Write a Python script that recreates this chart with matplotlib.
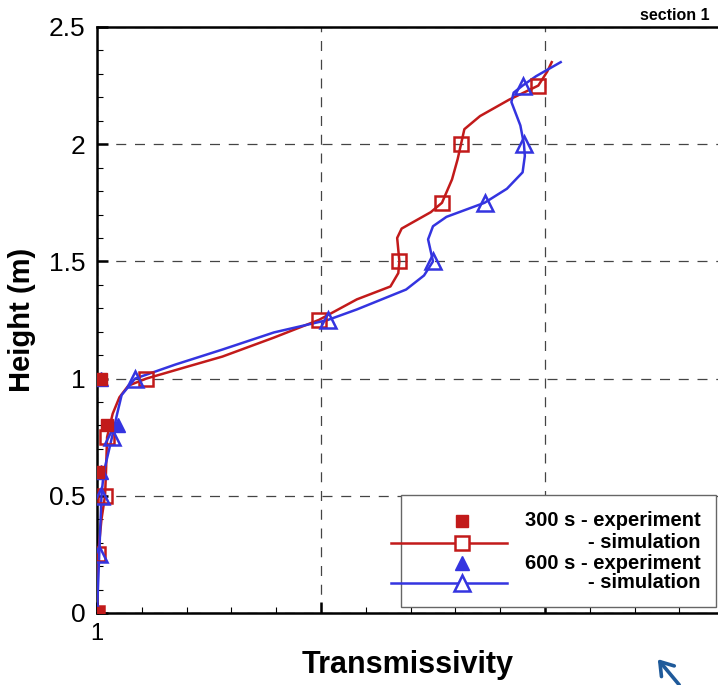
import matplotlib
matplotlib.use("Agg")
import matplotlib.pyplot as plt
from matplotlib.lines import Line2D
from matplotlib.patches import Rectangle, FancyArrowPatch
from matplotlib.ticker import MultipleLocator, FixedLocator, FixedFormatter

plt.rcParams['font.family'] = ['Liberation Sans', 'DejaVu Sans']

RED = '#c21a1a'
BLUE = '#3434e0'

# Simulated profiles (transmissivity vs. height), 300 s
sim300_curve_t = [1.0, 1.005, 1.02, 1.036, 1.04, 1.045, 1.07, 1.10, 1.14, 1.22, 1.40, 1.56, 1.79, 1.99,
                  2.16, 2.31, 2.345, 2.35, 2.34, 2.36, 2.41, 2.49, 2.54, 2.585, 2.61, 2.625, 2.64, 2.71,
                  2.84, 2.97, 3.01, 3.03]
sim300_curve_h = [0.0, 0.25, 0.40, 0.50, 0.60, 0.75, 0.85, 0.92, 0.97, 1.00, 1.05, 1.094, 1.175, 1.25,
                  1.338, 1.393, 1.45, 1.50, 1.60, 1.64, 1.667, 1.71, 1.75, 1.85, 1.936, 2.00, 2.064, 2.12,
                  2.19, 2.25, 2.31, 2.35]

# Simulated profiles, 600 s
sim600_curve_t = [1.0, 1.01, 1.02, 1.03, 1.067, 1.09, 1.11, 1.17, 1.35, 1.56, 1.79, 2.03, 2.16, 2.38,
                  2.46, 2.50, 2.478, 2.50, 2.56, 2.73, 2.83, 2.90, 2.91, 2.906, 2.89, 2.85, 2.86, 2.90,
                  2.96, 3.07]
sim600_curve_h = [0.0, 0.25, 0.50, 0.60, 0.75, 0.85, 0.93, 1.00, 1.06, 1.124, 1.197, 1.25, 1.295, 1.38,
                  1.44, 1.50, 1.594, 1.65, 1.69, 1.75, 1.81, 1.88, 1.95, 2.00, 2.08, 2.18, 2.22, 2.25,
                  2.29, 2.35]

# Simulation marker heights and values
sim_h = [0.0, 0.25, 0.5, 0.75, 1.0, 1.25, 1.5, 1.75, 2.0, 2.25]
sim300_t = [1.0, 1.005, 1.036, 1.045, 1.22, 1.99, 2.35, 2.54, 2.625, 2.97]
sim600_t = [1.0, 1.01, 1.02, 1.067, 1.17, 2.03, 2.50, 2.73, 2.906, 2.90]

# Experimental measurements
exp_h = [0.0, 0.6, 0.8, 1.0]
exp300_t = [1.0, 1.005, 1.045, 1.02]
exp600_t = [1.0, 1.02, 1.094, 1.02]

y_ticks = [0, 0.5, 1, 1.5, 2, 2.5]
y_ticklabels = ['0', '0.5', '1', '1.5', '2', '2.5']
x_ticks = [1, 2, 3]
x_ticklabels = ['1', '', '']

fig = plt.figure(figsize=(7.18, 6.85), dpi=100)
ax = fig.add_axes([97 / 718, 72 / 685, 621 / 718, 586 / 685])

ax.set_xlim(1, 1 + 621 / 224)
ax.set_ylim(0, 2.5)

ax.grid(True, which='major', color='#444444', linestyle=(0, (8, 7)), linewidth=0.9)
ax.set_axisbelow(True)

ax.plot(sim300_curve_t, sim300_curve_h, color=RED, lw=1.8, zorder=3, solid_joinstyle='round')
ax.plot(sim600_curve_t, sim600_curve_h, color=BLUE, lw=1.8, zorder=3, solid_joinstyle='round')
ax.plot(sim300_t, sim_h, linestyle='none', marker='s', ms=10.5, mfc='none', mec=RED, mew=1.8, zorder=4)
ax.plot(sim600_t, sim_h, linestyle='none', marker='^', ms=11.5, mfc='none', mec=BLUE, mew=1.8, zorder=4)
ax.plot(exp600_t, exp_h, linestyle='none', marker='^', ms=9.5, color=BLUE, zorder=5)
ax.plot(exp300_t, exp_h, linestyle='none', marker='s', ms=8.5, color=RED, zorder=5)

ax.yaxis.set_major_locator(FixedLocator(y_ticks))
ax.yaxis.set_major_formatter(FixedFormatter(y_ticklabels))
ax.yaxis.set_minor_locator(MultipleLocator(0.1))
ax.xaxis.set_major_locator(FixedLocator(x_ticks))
ax.xaxis.set_major_formatter(FixedFormatter(x_ticklabels))
ax.xaxis.set_minor_locator(MultipleLocator(0.2))

ax.tick_params(which='major', direction='in', length=8, width=1.8)
ax.tick_params(which='minor', direction='in', length=4, width=0.8)
ax.tick_params(axis='y', which='major', labelsize=19, pad=8.5)
ax.tick_params(axis='x', which='major', labelsize=17, pad=7)

for side in ('left', 'bottom', 'top'):
    ax.spines[side].set_linewidth(1.8)
ax.spines['right'].set_visible(False)

ax.set_ylabel('Height (m)', fontsize=21, fontweight='bold')
ax.yaxis.set_label_coords(-0.098, 0.5)
ax.set_xlabel('Transmissivity', fontsize=22, fontweight='bold', va='center')
ax.xaxis.set_label_coords(0.5, -0.089)

fig.text(0.988, 0.978, 'section 1', ha='right', va='center', fontsize=11.5, fontweight='bold')

# Legend drawn in axes coordinates
tr = ax.transAxes
ax.add_patch(Rectangle((0.4895, 0.0102), 0.5073, 0.1912, transform=tr, facecolor='white',
                       edgecolor='#666666', lw=1.0, zorder=6))
rows = [0.157, 0.1195, 0.0853, 0.0512]
mx = 0.5878
ax.add_line(Line2D([mx], [rows[0]], transform=tr, linestyle='none', marker='s', ms=8.5, color=RED, zorder=7))
ax.add_line(Line2D([0.4734, 0.6602], [rows[1]] * 2, transform=tr, color=RED, lw=1.8, zorder=7))
ax.add_line(Line2D([mx], [rows[1]], transform=tr, linestyle='none', marker='s', ms=10.5, mfc='white',
                   mec=RED, mew=1.8, zorder=8))
ax.add_line(Line2D([mx], [rows[2]], transform=tr, linestyle='none', marker='^', ms=9.5, color=BLUE, zorder=7))
ax.add_line(Line2D([0.4734, 0.6602], [rows[3]] * 2, transform=tr, color=BLUE, lw=1.8, zorder=7))
ax.add_line(Line2D([mx], [rows[3]], transform=tr, linestyle='none', marker='^', ms=11.5, mfc='white',
                   mec=BLUE, mew=1.8, zorder=8))
labels = ['300 s - experiment', '- simulation', '600 s - experiment', '- simulation']
for yy, lab in zip(rows, labels):
    ax.text(0.9726, yy, lab, transform=tr, ha='right', va='center', fontsize=14.5,
            fontweight='bold', zorder=8)

# Pointer arrow in the lower right corner
fig.add_artist(FancyArrowPatch(
    (681 / 718, -2 / 685), (656 / 718, 28 / 685), transform=fig.transFigure,
    arrowstyle='->,head_length=9,head_width=6', color='#1f5a9a', lw=2.6, mutation_scale=1))

fig.savefig('out.png', dpi=100)
